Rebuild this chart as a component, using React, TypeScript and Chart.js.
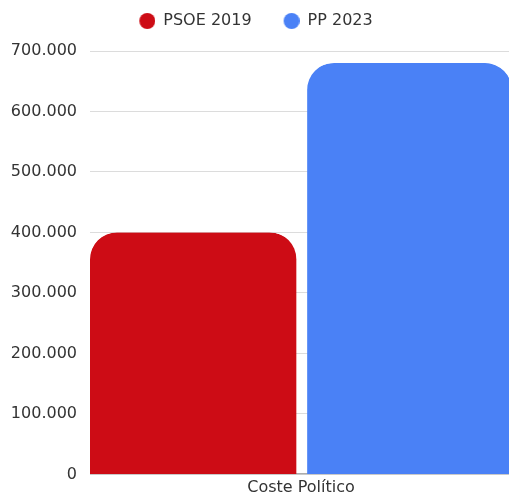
import React, { useEffect, useRef } from 'react';
import { Chart, registerables } from 'chart.js';

Chart.register(...registerables);

// ---- data ----
const categories = ['Coste Político'];
const seriesNames = ['PSOE 2019', 'PP 2023'];
const psoe2019 = [400000];
const pp2023 = [680000];
const yMin = 0;
const yMax = 700000;
const yStep = 100000;
const seriesColors = ['#CD0C15', '#4A81F6'];

function formatEs(v: number): string {
  return Math.round(v)
    .toString()
    .replace(/\B(?=(\d{3})+(?!\d))/g, '.');
}

function makeDot(color: string): HTMLCanvasElement {
  const c = document.createElement('canvas');
  c.width = 38;
  c.height = 16;
  const g = c.getContext('2d')!;
  g.fillStyle = color;
  g.beginPath();
  g.arc(30, 8, 8, 0, Math.PI * 2);
  g.fill();
  return c;
}

const legendHeightPlugin = {
  id: 'legendHeightFix',
  beforeLayout(chart: any) {
    const lg = chart.legend;
    if (lg && !lg.__patched) {
      const orig = lg.fit;
      lg.fit = function () {
        orig.call(this);
        this.height = 48;
      };
      lg.__patched = true;
    }
  },
};

// baseline at value 0, drawn under the bars (visible only between them)
const baselinePlugin = {
  id: 'zeroBaseline',
  beforeDatasetsDraw(chart: any) {
    const { ctx, chartArea } = chart;
    const y = chart.scales.y.getPixelForValue(0) - 0.5;
    ctx.save();
    ctx.strokeStyle = '#777777';
    ctx.lineWidth = 1;
    ctx.beginPath();
    ctx.moveTo(chartArea.left, y);
    ctx.lineTo(chartArea.right, y);
    ctx.stroke();
    ctx.restore();
  },
};

export default function App() {
  const ref = useRef<HTMLCanvasElement | null>(null);

  useEffect(() => {
    if (!ref.current) return;
    Chart.defaults.font.family = "'DejaVu Sans', sans-serif";
    Chart.defaults.font.size = 16;
    Chart.defaults.color = '#333333';

    const chart = new Chart(ref.current, {
      type: 'bar',
      data: {
        labels: categories,
        datasets: [
          {
            label: seriesNames[0],
            data: psoe2019,
            backgroundColor: seriesColors[0],
            borderColor: 'rgba(0,0,0,0)',
            borderWidth: { top: 0, right: 5, bottom: 0, left: 0 },
            borderRadius: { topLeft: 27, topRight: 32, bottomLeft: 0, bottomRight: 0 },
            borderSkipped: 'start',
            barPercentage: 1,
            categoryPercentage: 1,
          },
          {
            label: seriesNames[1],
            data: pp2023,
            backgroundColor: seriesColors[1],
            borderColor: 'rgba(0,0,0,0)',
            borderWidth: { top: 0, right: 0, bottom: 0, left: 6.5 },
            borderRadius: { topLeft: 33.5, topRight: 27, bottomLeft: 0, bottomRight: 0 },
            borderSkipped: 'start',
            barPercentage: 1,
            categoryPercentage: 1,
          },
        ],
      },
      options: {
        animation: false,
        responsive: true,
        maintainAspectRatio: false,
        layout: { padding: { top: 3, left: 0, right: 0, bottom: 0 } },
        plugins: {
          tooltip: { enabled: false },
          legend: {
            display: true,
            position: 'top',
            labels: {
              usePointStyle: true,
              pointStyleWidth: 38,
              boxHeight: 16,
              padding: 10,
              color: '#333333',
              font: { size: 16 },
              generateLabels: (ch: any) => {
                const items = Chart.defaults.plugins.legend.labels.generateLabels(ch);
                items.forEach((it: any, i: number) => {
                  it.pointStyle = makeDot(seriesColors[i]);
                });
                return items;
              },
            },
          },
        },
        scales: {
          x: {
            grid: { display: false, drawTicks: false },
            border: { display: false },
            ticks: { padding: 4, color: '#333333', font: { size: 16 } },
            afterFit: (s: any) => {
              s.height = 22;
            },
          },
          y: {
            min: yMin,
            max: yMax,
            grid: {
              color: (c: any) => (c.tick && c.tick.value === 0 ? 'rgba(0,0,0,0)' : '#dcdcdc'),
              drawTicks: false,
            },
            border: { display: false },
            ticks: {
              stepSize: yStep,
              padding: 13,
              color: '#333333',
              font: { size: 16 },
              callback: (v: any) => formatEs(Number(v)),
            },
            afterFit: (s: any) => {
              s.width = 112;
            },
          },
        },
      },
      plugins: [legendHeightPlugin, baselinePlugin],
    } as any);

    return () => chart.destroy();
  }, []);

  return (
    <div
      style={{
        position: 'fixed',
        left: 0,
        top: 0,
        width: 509,
        height: 497,
        overflow: 'hidden',
        background: '#ffffff',
      }}
    >
      <div style={{ position: 'absolute', left: -22, top: 0, width: 534, height: 497 }}>
        <canvas ref={ref} />
      </div>
    </div>
  );
}
